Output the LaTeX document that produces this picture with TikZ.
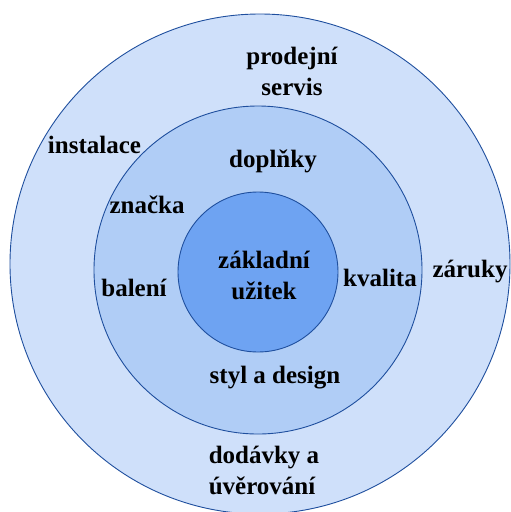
\documentclass[tikz,border=0pt]{standalone}
\usepackage{fontspec}
\setmainfont{Liberation Serif}
\definecolor{outerc}{HTML}{CFE0FA}
\definecolor{midc}{HTML}{B0CDF6}
\definecolor{innerc}{HTML}{6EA3F2}
\definecolor{edgec}{HTML}{1F4F9E}
\begin{document}
\begin{tikzpicture}[x=1pt,y=-1pt,
  ring/.style={circle, draw=edgec, line width=0.9pt, inner sep=0pt},
  lbl/.style={font=\fontsize{25}{31}\selectfont\bfseries, inner sep=0pt, anchor=base, align=center, text=black}]
\useasboundingbox (0,0) rectangle (511,512);
\node[ring, fill=outerc, minimum size=500pt] (outer) at (260,264) {};
\node[ring, fill=midc, minimum size=328pt] (middle) at (258,270) {};
\node[ring, fill=innerc, minimum size=160pt] (inner) at (258,272) {};
\node[lbl] (prodejni) at (292,95) {prodejní\\servis};
\node[lbl] (instalace) at (94.5,153) {instalace};
\node[lbl] (doplnky) at (273,167) {doplňky};
\node[lbl] (znacka) at (147,213) {značka};
\node[lbl] (zakladni) at (264,299) {základní\\užitek};
\node[lbl] (baleni) at (134,296) {balení};
\node[lbl] (kvalita) at (380,286) {kvalita};
\node[lbl] (zaruky) at (470,277) {záruky};
\node[lbl] (styl) at (275,383) {styl a design};
\node[lbl, align=left] (dodavky) at (264,494) {dodávky a\\úvěrování};
\end{tikzpicture}
\end{document}
